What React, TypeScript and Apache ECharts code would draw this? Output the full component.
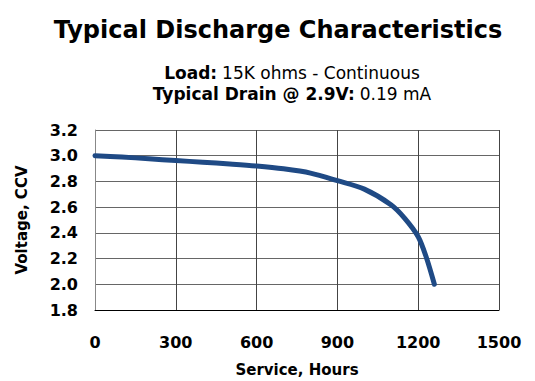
import React, { useEffect, useRef } from "react";
import * as echarts from "echarts";

const hours = [0, 100, 200, 300, 400, 500, 600, 700, 800, 900, 1000, 1100, 1150, 1200, 1230, 1260];
const volts = [3.0, 2.99, 2.976, 2.962, 2.95, 2.936, 2.92, 2.898, 2.865, 2.806, 2.74, 2.617, 2.513, 2.37, 2.21, 2.0];
const xTicks = [0, 300, 600, 900, 1200, 1500];
const yTicks = [1.8, 2.0, 2.2, 2.4, 2.6, 2.8, 3.0, 3.2];

export default function App() {
  const ref = useRef<HTMLDivElement>(null);
  useEffect(() => {
    const chart = echarts.init(ref.current!, null, { renderer: "svg" });
    const font = "DejaVu Sans";
    chart.setOption({
      animation: false,
      backgroundColor: "#ffffff",
      title: [
        {
          text: "Typical Discharge Characteristics",
          left: 273,
          top: 13,
          textAlign: "center",
          textStyle: { fontFamily: font, fontWeight: "bold", fontSize: 24, color: "#000" },
        },
        {
          text: "{b|Load:} {n|15K ohms - Continuous}\n{b|Typical Drain @ 2.9V:} {n|0.19 mA}",
          left: 287,
          top: 57,
          textAlign: "center",
          textStyle: {
            lineHeight: 21,
            rich: {
              b: { fontFamily: font, fontWeight: "bold", fontSize: 17, color: "#000", lineHeight: 21 },
              n: { fontFamily: font, fontWeight: "normal", fontSize: 17, color: "#000", lineHeight: 21 },
            },
          },
        },
      ],
      grid: { left: 95, right: 36, top: 130, bottom: 71, containLabel: false },
      xAxis: {
        type: "value",
        min: 0,
        max: 1500,
        interval: 300,
        name: "Service, Hours",
        nameLocation: "middle",
        nameGap: 52,
        nameTextStyle: { fontFamily: font, fontWeight: "bold", fontSize: 15, color: "#000" },
        axisLine: { show: true, lineStyle: { color: "#000", width: 1 } },
        axisTick: { show: false },
        axisLabel: {
          fontFamily: font,
          fontWeight: "bold",
          fontSize: 16,
          color: "#000",
          margin: 24,
          formatter: (v: number) => (xTicks.includes(v) ? String(v) : ""),
        },
        splitLine: { show: true, lineStyle: { color: "#444", width: 1 } },
      },
      yAxis: {
        type: "value",
        min: 1.8,
        max: 3.2,
        interval: 0.2,
        name: "Voltage, CCV",
        nameLocation: "middle",
        nameGap: 66,
        nameTextStyle: { fontFamily: font, fontWeight: "bold", fontSize: 15, color: "#000" },
        axisLine: { show: true, lineStyle: { color: "#888", width: 1 } },
        axisTick: { show: false },
        axisLabel: {
          fontFamily: font,
          fontWeight: "bold",
          fontSize: 16,
          color: "#000",
          margin: 17,
          formatter: (v: number) => {
            const t = yTicks.find((y) => Math.abs(y - v) < 1e-6);
            return t !== undefined ? t.toFixed(1) : "";
          },
        },
        splitLine: { show: true, lineStyle: { color: "#666", width: 1 } },
      },
      series: [
        {
          type: "line",
          data: hours.map((h, i) => [h, volts[i]]),
          smooth: 0.3,
          showSymbol: false,
          lineStyle: { color: "#1f4a85", width: 5, cap: "round", join: "round" },
        },
      ],
    });
    return () => chart.dispose();
  }, []);
  return <div ref={ref} style={{ width: 535, height: 381, position: "absolute", left: 0, top: 0 }} />;
}
